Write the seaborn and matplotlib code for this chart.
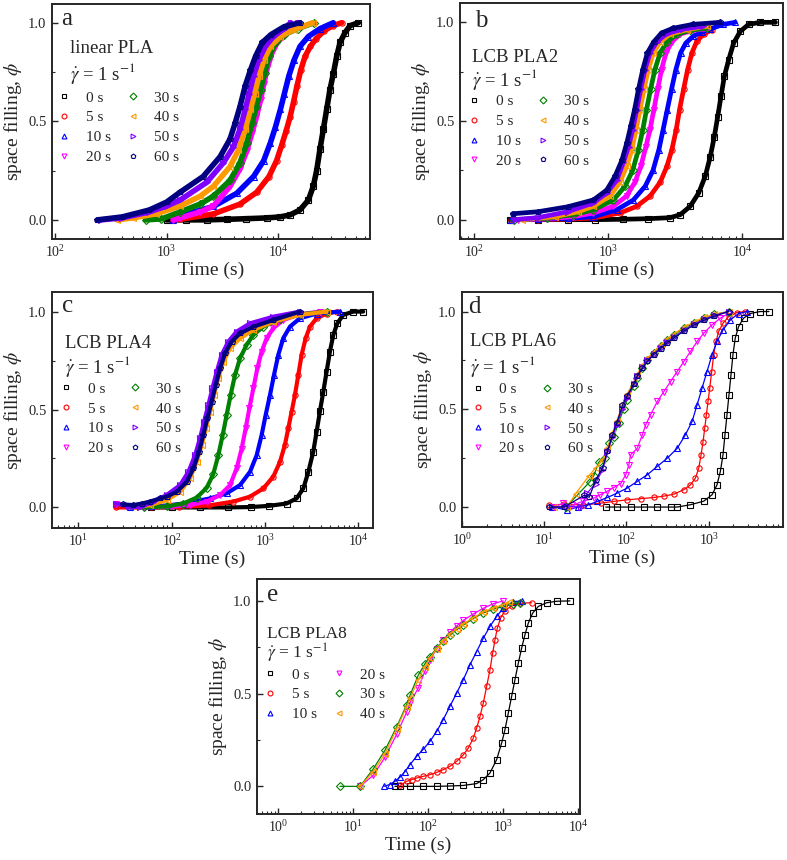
# Space filling vs time for PLA samples after pre-shear (five panels)

import matplotlib
matplotlib.use('Agg')
import matplotlib.pyplot as plt
import matplotlib.ticker as mticker
from matplotlib.lines import Line2D
import seaborn as sns

# ---- data (time in s, space filling phi) ----
labels8 = ['0 s', '5 s', '10 s', '20 s', '30 s', '40 s', '50 s', '60 s']
labels6 = ['0 s', '5 s', '10 s', '20 s', '30 s', '40 s']

# panel a: linear PLA
a_time = [
    [1000, 1500, 2300, 3500, 5200, 7900, 10400, 12800, 15700, 18700, 20700, 22200,
     23800, 25500, 27300, 29200, 31300, 33600, 36000, 39900, 44200, 52500],
    [1150, 1320, 2630, 4560, 6440, 8300, 9700, 10800, 11800, 12800, 13800, 14800,
     16000, 17500, 19500, 22000, 26000, 31000, 37200],
    [1150, 1320, 2630, 4270, 6030, 7430, 8530, 9470, 10500, 11400, 12500, 13900,
     15750, 18700, 23800, 31300],
    [1150, 1320, 2000, 2630, 3710, 4560, 5240, 5840, 6390, 6970, 7460, 8000, 8870,
     9850, 12150, 14950],
    [650, 900, 1320, 2000, 2630, 3710, 4560, 5240, 5840, 6390, 6970, 7580, 8290,
     9530, 11350, 14950, 21000],
    [360, 500, 800, 1320, 2000, 2630, 3710, 4420, 5080, 5660, 6160, 6750, 7460,
     8540, 10500, 13900, 20500],
    [260, 400, 700, 1000, 1320, 2290, 3240, 3980, 4560, 5080, 5520, 6030, 6700,
     7700, 9090, 11350, 13000],
    [240, 400, 700, 1000, 1320, 2130, 3020, 3710, 4120, 4560, 5080, 5660, 6290,
     7230, 8650, 11350, 15700],
]
a_phi = [
    [0, 0, 0, 0.003, 0.006, 0.01, 0.015, 0.025, 0.05, 0.1, 0.17, 0.25, 0.36, 0.46,
     0.56, 0.66, 0.74, 0.83, 0.9, 0.95, 0.985, 1.0],
    [0, 0.003, 0.03, 0.08, 0.14, 0.22, 0.3, 0.38, 0.45, 0.52, 0.6, 0.68, 0.76, 0.83,
     0.88, 0.92, 0.96, 0.985, 1.0],
    [0, 0.02, 0.068, 0.135, 0.22, 0.3, 0.39, 0.47, 0.56, 0.64, 0.73, 0.81, 0.88,
     0.93, 0.97, 1.0],
    [0, 0.01, 0.04, 0.07, 0.17, 0.26, 0.35, 0.44, 0.52, 0.61, 0.69, 0.77, 0.85, 0.9,
     0.95, 1.0],
    [0, 0.005, 0.04, 0.08, 0.12, 0.2, 0.29, 0.39, 0.49, 0.575, 0.66, 0.745, 0.83,
     0.9, 0.94, 0.97, 1.0],
    [0, 0.01, 0.03, 0.07, 0.12, 0.17, 0.27, 0.355, 0.46, 0.56, 0.64, 0.73, 0.81,
     0.88, 0.93, 0.965, 1.0],
    [0, 0.01, 0.04, 0.07, 0.1, 0.19, 0.29, 0.37, 0.46, 0.56, 0.64, 0.73, 0.81, 0.88,
     0.93, 0.97, 1.0],
    [0, 0.015, 0.05, 0.09, 0.14, 0.22, 0.32, 0.41, 0.49, 0.575, 0.68, 0.76, 0.83,
     0.9, 0.94, 0.98, 1.0],
]

# panel b: LCB PLA2
b_time = [
    [186, 300, 500, 800, 1300, 2000, 2910, 3460, 4110, 4750, 5320, 5800, 6210, 6580,
     6970, 7380, 7950, 8660, 9720, 11220, 13710, 17750],
    [190, 300, 500, 780, 1234, 1643, 2067, 2455, 2754, 3000, 3230, 3420, 3665, 3928,
     4230, 4610, 5170, 5970],
    [190, 300, 500, 780, 1165, 1550, 1900, 2170, 2400, 2580, 2770, 2980, 3210, 3480,
     3810, 4330, 5000, 5780, 7270, 8890],
    [215, 350, 550, 780, 1100, 1380, 1590, 1760, 1920, 2060, 2200, 2350, 2510, 2710,
     2980, 3450, 4330, 5440],
    [200, 350, 550, 780, 1100, 1345, 1530, 1690, 1820, 1940, 2080, 2240, 2450, 2750,
     3270, 4110, 5440],
    [230, 400, 600, 780, 1040, 1230, 1380, 1510, 1620, 1735, 1860, 2000, 2180, 2450,
     2900, 3880, 5440],
    [200, 300, 500, 780, 980, 1165, 1305, 1425, 1530, 1640, 1755, 1890, 2060, 2310,
     2740, 3650, 5130],
    [195, 300, 500, 780, 980, 1130, 1270, 1385, 1480, 1580, 1690, 1820, 1970, 2190,
     2510, 3050, 4330, 6890],
]
b_phi = [
    [0, 0, 0, 0, 0.002, 0.005, 0.01, 0.025, 0.068, 0.135, 0.22, 0.32, 0.42, 0.52,
     0.625, 0.726, 0.81, 0.895, 0.955, 0.99, 1.0, 1.0],
    [0, 0, 0.003, 0.008, 0.034, 0.068, 0.12, 0.19, 0.27, 0.355, 0.456, 0.557, 0.66,
     0.76, 0.845, 0.905, 0.94, 0.963],
    [0, 0.002, 0.006, 0.015, 0.05, 0.1, 0.17, 0.25, 0.355, 0.456, 0.557, 0.66, 0.76,
     0.845, 0.895, 0.93, 0.95, 0.966, 0.99, 1.0],
    [0, 0.005, 0.015, 0.034, 0.068, 0.12, 0.19, 0.27, 0.37, 0.456, 0.557, 0.66, 0.76,
     0.845, 0.9, 0.94, 0.96, 0.966],
    [0, 0.008, 0.025, 0.05, 0.1, 0.17, 0.25, 0.355, 0.456, 0.557, 0.66, 0.76, 0.845,
     0.9, 0.94, 0.96, 0.97],
    [0, 0.015, 0.04, 0.068, 0.12, 0.19, 0.27, 0.355, 0.456, 0.557, 0.66, 0.76, 0.845,
     0.9, 0.94, 0.963, 0.98],
    [0, 0.01, 0.04, 0.085, 0.135, 0.2, 0.29, 0.37, 0.456, 0.557, 0.66, 0.76, 0.845,
     0.9, 0.943, 0.966, 0.98],
    [0.03, 0.04, 0.065, 0.1, 0.15, 0.22, 0.3, 0.39, 0.473, 0.557, 0.66, 0.76, 0.845,
     0.9, 0.946, 0.97, 0.99, 1.0],
]

# panel c: LCB PLA4
c_time = [
    [60, 100, 200, 400, 700, 1100, 1706, 2183, 2576, 2913, 3296, 3580, 3882, 4218,
     4580, 4970, 5400, 5960, 6910, 8840, 11300],
    [25, 60, 120, 250, 458, 691, 960, 1227, 1449, 1637, 1778, 1931, 2096, 2276, 2471,
     2729, 3035, 3580, 4580, 5960],
    [36, 60, 90, 133, 258, 388, 540, 691, 815, 921, 1017, 1132, 1249, 1389, 1571,
     1853, 2371, 3580, 6370],
    [25, 50, 100, 157, 237, 330, 422, 497, 562, 621, 680, 750, 828, 921, 1042, 1227,
     1571, 2371, 3880],
    [50, 88, 133, 185, 237, 279, 316, 352, 388, 428, 477, 540, 636, 750, 960, 1449,
     2371, 4580],
    [40, 58.6, 88, 123, 157, 185, 210, 233, 258, 284, 316, 358, 422, 540, 750, 1227,
     2371, 4580],
    [25, 35, 45.8, 63.6, 88, 123, 151, 178, 201, 222, 247, 273, 304, 343, 405, 497,
     691, 1227, 2371],
    [30.3, 38.8, 48, 58.6, 75, 88, 113, 145, 171, 196, 218, 241, 268, 296, 330, 373,
     439, 540, 750, 1227, 2371],
]
c_phi = [
    [0, 0, 0, 0, 0.002, 0.008, 0.02, 0.046, 0.097, 0.18, 0.285, 0.387, 0.49, 0.59,
     0.693, 0.796, 0.88, 0.94, 0.983, 1.0, 1.0],
    [0, 0, 0.003, 0.01, 0.03, 0.055, 0.097, 0.157, 0.233, 0.32, 0.404, 0.489, 0.574,
     0.676, 0.779, 0.864, 0.923, 0.966, 0.99, 1.0],
    [0, 0.005, 0.01, 0.02, 0.046, 0.072, 0.114, 0.182, 0.267, 0.37, 0.472, 0.574,
     0.676, 0.779, 0.864, 0.923, 0.966, 0.99, 1.0],
    [0.02, 0, 0.005, 0.012, 0.03, 0.063, 0.114, 0.2, 0.3, 0.404, 0.506, 0.608, 0.71,
     0.796, 0.864, 0.915, 0.957, 0.986, 1.0],
    [0, 0.005, 0.02, 0.05, 0.1, 0.17, 0.267, 0.37, 0.472, 0.574, 0.676, 0.762, 0.83,
     0.881, 0.923, 0.963, 0.986, 1.0],
    [0, 0.012, 0.037, 0.08, 0.148, 0.233, 0.319, 0.404, 0.489, 0.574, 0.659, 0.744,
     0.813, 0.864, 0.906, 0.949, 0.983, 1.0],
    [0.02, 0.005, 0, 0.03, 0.063, 0.114, 0.182, 0.267, 0.353, 0.438, 0.523, 0.608,
     0.693, 0.779, 0.847, 0.898, 0.94, 0.974, 1.0],
    [0.015, 0.012, 0.02, 0.03, 0.046, 0.055, 0.08, 0.131, 0.2, 0.284, 0.37, 0.455,
     0.54, 0.625, 0.71, 0.787, 0.847, 0.889, 0.923, 0.957, 1.0],
]

# panel d: LCB PLA6
d_time = [
    [56, 77, 112, 163, 237, 343, 413, 600, 869, 1097, 1261, 1384, 1491, 1576, 1667,
     1763, 1864, 1970, 2101, 2305, 2650, 3193, 4220, 5400],
    [11.5, 17.5, 30, 48.7, 70.6, 102, 149, 215, 285, 377, 498, 600, 689, 756, 807,
     853, 894, 936, 981, 1028, 1087, 1149, 1227, 1321, 1491, 1745, 2203, 2780],
    [12.5, 19, 26, 33.6, 44.4, 58.7, 77.5, 102, 135, 179, 237, 313, 413, 521, 628,
     722, 829, 953, 1097, 1261, 1491, 1828, 2305, 2910],
    [13, 17, 22, 30, 40, 48, 58, 70, 85, 98, 107, 112, 135, 156, 171, 196, 237, 285,
     343, 413, 498, 600, 722, 869, 1097, 1384, 1745],
    [18.4, 36, 40, 46, 55, 62, 70, 80, 92, 102, 123, 135, 156, 179, 215, 260, 313,
     377, 498, 655, 869, 1150, 1745],
    [13, 19, 24, 35, 42, 51, 58.7, 67.6, 76, 89, 102, 123, 135, 156, 179, 215, 260,
     313, 377, 498, 655, 869, 1150, 1745],
    [12.5, 19, 28, 33, 42, 51, 58.7, 67.6, 76, 89, 102, 123, 135, 156, 179, 215, 260,
     313, 377, 498, 655, 869, 1150, 1745],
    [11.5, 17.5, 30.6, 35.2, 42.4, 51.1, 58.7, 67.6, 76.1, 89.3, 102, 123, 135, 156,
     179, 215, 260, 313, 377, 498, 655, 869, 1150, 1745],
]
d_phi = [
    [0, 0, 0, 0, 0, 0, 0, 0.012, 0.03, 0.063, 0.114, 0.182, 0.267, 0.37, 0.472, 0.574,
     0.676, 0.779, 0.864, 0.923, 0.966, 0.99, 1.0, 1.0],
    [0.009, 0.015, 0.01, 0.02, 0.029, 0.037, 0.043, 0.049, 0.056, 0.066, 0.089, 0.114,
     0.148, 0.199, 0.267, 0.335, 0.403, 0.472, 0.54, 0.608, 0.693, 0.779, 0.847, 0.898,
     0.94, 0.974, 0.995, 1.0],
    [0.0, -0.015, 0.0, 0.01, 0.029, 0.049, 0.072, 0.097, 0.131, 0.165, 0.208, 0.25,
     0.3, 0.37, 0.438, 0.523, 0.608, 0.693, 0.779, 0.847, 0.906, 0.957, 0.99, 1.0],
    [0.0, 0.02, 0.01, 0.03, 0.046, 0.063, 0.08, 0.1, 0.12, 0.165, 0.216, 0.267, 0.3,
     0.37, 0.42, 0.472, 0.54, 0.591, 0.642, 0.693, 0.744, 0.796, 0.847, 0.889, 0.932,
     0.966, 0.991],
    [0.0, 0.13, 0.16, 0.23, 0.25, 0.33, 0.36, 0.43, 0.5, 0.55, 0.62, 0.66, 0.71, 0.75,
     0.79, 0.825, 0.855, 0.88, 0.915, 0.94, 0.965, 0.985, 1.0],
    [0.0, 0.0, 0.068, 0.16, 0.2, 0.24, 0.3, 0.38, 0.44, 0.52, 0.58, 0.64, 0.68, 0.725,
     0.76, 0.795, 0.83, 0.86, 0.885, 0.92, 0.945, 0.97, 0.985, 1.0],
    [0.0, 0.005, 0.0, 0.07, 0.12, 0.19, 0.28, 0.36, 0.42, 0.5, 0.56, 0.63, 0.67, 0.715,
     0.75, 0.785, 0.815, 0.845, 0.87, 0.905, 0.935, 0.96, 0.98, 1.0],
    [0.0, 0.0, 0.06, 0.05, 0.14, 0.2, 0.285, 0.37, 0.43, 0.52, 0.57, 0.63, 0.67, 0.71,
     0.745, 0.78, 0.81, 0.84, 0.865, 0.9, 0.93, 0.955, 0.975, 1.0],
]

# panel e: LCB PLA8
e_time = [
    [35.9, 41.9, 57, 85.8, 129, 194, 293, 441, 541, 664, 815, 950, 1052, 1166, 1292,
     1431, 1585, 1755, 1944, 2154, 2460, 2928, 3785, 5140, 7740],
    [42, 51.4, 59.9, 69.9, 85.8, 105, 129, 158, 194, 239, 293, 341, 398, 441, 489,
     541, 600, 664, 721, 775, 832, 921, 1052, 1292, 1668, 2387],
    [25.6, 30.5, 35.9, 42, 48.9, 57, 69.9, 85.8, 105, 129, 158, 194, 239, 293, 359,
     441, 541, 664, 815, 1000, 1359, 1755],
    [12.3, 18.5, 26.4, 37.8, 51.4, 57, 73.6, 90, 105, 129, 158, 194, 239, 293, 398,
     541, 736, 1000],
    [6.64, 12.3, 18.5, 26.4, 37.8, 51.4, 57, 73.6, 90, 105, 129, 158, 194, 239, 293,
     398, 541, 736, 1000, 1359, 1650],
    [12.3, 18.5, 26.4, 37.8, 51.4, 57, 73.6, 90, 105, 129, 158, 194, 239, 293, 398,
     541, 736, 1000, 1200],
]
e_phi = [
    [0, 0, 0, 0, 0, 0.002, 0.005, 0.015, 0.036, 0.072, 0.144, 0.233, 0.305, 0.395,
     0.485, 0.575, 0.664, 0.745, 0.817, 0.88, 0.934, 0.97, 0.99, 0.998, 1.0],
    [0.005, 0.027, 0.036, 0.045, 0.054, 0.063, 0.075, 0.09, 0.108, 0.135, 0.17, 0.206,
     0.26, 0.314, 0.377, 0.449, 0.539, 0.628, 0.718, 0.79, 0.853, 0.907, 0.948, 0.973,
     0.987, 0.99],
    [0.0, 0.01, 0.027, 0.05, 0.08, 0.117, 0.162, 0.2, 0.242, 0.296, 0.359, 0.431,
     0.503, 0.575, 0.655, 0.727, 0.799, 0.862, 0.916, 0.961, 0.996, 1.0],
    [0.0, 0.06, 0.156, 0.28, 0.4, 0.45, 0.53, 0.62, 0.68, 0.74, 0.79, 0.83, 0.865,
     0.895, 0.93, 0.96, 0.985, 1.0],
    [0.0, 0.0, 0.095, 0.194, 0.32, 0.44, 0.49, 0.6, 0.66, 0.7, 0.745, 0.785, 0.815,
     0.845, 0.87, 0.905, 0.935, 0.955, 0.97, 0.985, 0.99],
    [0.0, 0.08, 0.175, 0.31, 0.43, 0.475, 0.575, 0.645, 0.69, 0.74, 0.785, 0.82, 0.85,
     0.875, 0.91, 0.94, 0.962, 0.98, 0.995],
]

# ---- styling ----
COLORS = {'0 s': '#000000', '5 s': '#FF0000', '10 s': '#0000FF', '20 s': '#FF00FF',
          '30 s': '#008000', '40 s': '#FF9900', '50 s': '#8000FF', '60 s': '#000080'}
MARKERS = {'0 s': 's', '5 s': 'o', '10 s': '^', '20 s': 'v',
           '30 s': 'D', '40 s': '<', '50 s': '>', '60 s': 'p'}

GAMMA = r'$\dot{\gamma}$ = 1 s$^{-1}$'


def setup_style():
    sns.set_style('ticks')
    plt.rcParams['font.family'] = ['Liberation Serif', 'DejaVu Serif']
    plt.rcParams['mathtext.fontset'] = 'stix'
    plt.rcParams['axes.linewidth'] = 1.4
    plt.rcParams['xtick.direction'] = 'in'
    plt.rcParams['ytick.direction'] = 'in'


def draw_panel(ax, times, phis, labels, lw, xlim, ylim, letter, title, lay):
    for t, p, lab in zip(times, phis, labels):
        col = COLORS[lab]
        sns.lineplot(x=t, y=p, ax=ax, color=col, linewidth=lw,
                     marker=MARKERS[lab], markersize=3.8, markerfacecolor='none',
                     markeredgecolor=col, markeredgewidth=0.8,
                     estimator=None, sort=False, legend=False)

    ax.set_xscale('log')
    ax.set_xlim(*xlim)
    ax.set_ylim(*ylim)
    ax.yaxis.set_major_locator(mticker.MultipleLocator(0.5))
    ax.yaxis.set_minor_locator(mticker.MultipleLocator(0.25))
    ax.yaxis.set_major_formatter(mticker.FormatStrFormatter('%.1f'))
    ax.xaxis.set_major_locator(mticker.LogLocator(base=10, numticks=10))
    ax.xaxis.set_minor_locator(mticker.LogLocator(base=10, subs=range(2, 10), numticks=20))
    ax.tick_params(which='major', length=4, width=1.0, labelsize=10.5, pad=4)
    ax.tick_params(which='minor', length=2.2, width=0.8)
    ax.tick_params(axis='x', labelsize=10)
    ax.set_xlabel('Time (s)', fontsize=14, labelpad=1)
    ax.set_ylabel(r'space filling, $\phi$', fontsize=14, labelpad=3)

    ax.text(lay['letter'][0], lay['letter'][1], letter, transform=ax.transAxes,
            fontsize=18, ha='left', va='center')
    ax.text(lay['title'][0], lay['title'][1], title, transform=ax.transAxes,
            fontsize=lay.get('tsize', 13.5), ha='left', va='center')
    ax.text(lay['title'][0], lay['gamma'], GAMMA, transform=ax.transAxes,
            fontsize=lay.get('tsize', 13.5), ha='left', va='center')

    handles = [Line2D([], [], linestyle='none', marker=MARKERS[lab], markersize=3.5,
                      markerfacecolor='none', markeredgecolor=COLORS[lab],
                      markeredgewidth=0.8) for lab in labels]
    ax.legend(handles, labels, loc='upper left', bbox_to_anchor=lay['legend'],
              ncol=2, frameon=False, fontsize=11, handlelength=0.8,
              handletextpad=1.0, columnspacing=lay.get('cs', 1.05),
              labelspacing=0.4, borderpad=0, borderaxespad=0)


def add_axes(fig, left, top, right, bottom):
    W, H = 787.0, 860.0
    return fig.add_axes([left / W, 1 - bottom / H, (right - left) / W, (bottom - top) / H])


def main():
    setup_style()
    fig = plt.figure(figsize=(7.87, 8.6), dpi=100)

    ax_a = add_axes(fig, 52, 4, 370, 239)
    ax_b = add_axes(fig, 460, 3, 783, 239)
    ax_c = add_axes(fig, 52, 292, 373, 528)
    ax_d = add_axes(fig, 462, 292, 783, 527)
    ax_e = add_axes(fig, 257, 579, 580, 814)

    draw_panel(ax_a, a_time, a_phi, labels8, 4.0, (94, 66800), (-0.097, 1.095), 'a',
               'linear PLA', {'letter': (0.03, 0.935), 'title': (0.057, 0.81),
                              'gamma': 0.705, 'legend': (0.019, 0.63)})
    draw_panel(ax_b, b_time, b_phi, labels8, 3.4, (79, 20200), (-0.098, 1.098), 'b',
               'LCB PLA2', {'letter': (0.046, 0.925), 'title': (0.037, 0.77),
                            'gamma': 0.675, 'legend': (0.025, 0.612)})
    draw_panel(ax_c, c_time, c_phi, labels8, 3.0, (5.2, 14400), (-0.105, 1.1), 'c',
               'LCB PLA4', {'letter': (0.031, 0.94), 'title': (0.04, 0.78),
                            'gamma': 0.685, 'legend': (0.025, 0.618)})
    draw_panel(ax_d, d_time, d_phi, labels8, 0.9, (1.0, 8000), (-0.102, 1.1), 'd',
               'LCB PLA6', {'letter': (0.019, 0.936), 'title': (0.025, 0.79),
                            'gamma': 0.685, 'legend': (0.031, 0.616)})
    draw_panel(ax_e, e_time, e_phi, labels6, 0.9, (0.52, 10540), (-0.149, 1.118), 'e',
               'LCB PLA8', {'letter': (0.031, 0.932), 'title': (0.031, 0.768),
                            'gamma': 0.685, 'legend': (0.022, 0.622), 'tsize': 12.5})

    fig.savefig('out.png', dpi=100)


if __name__ == '__main__':
    main()
